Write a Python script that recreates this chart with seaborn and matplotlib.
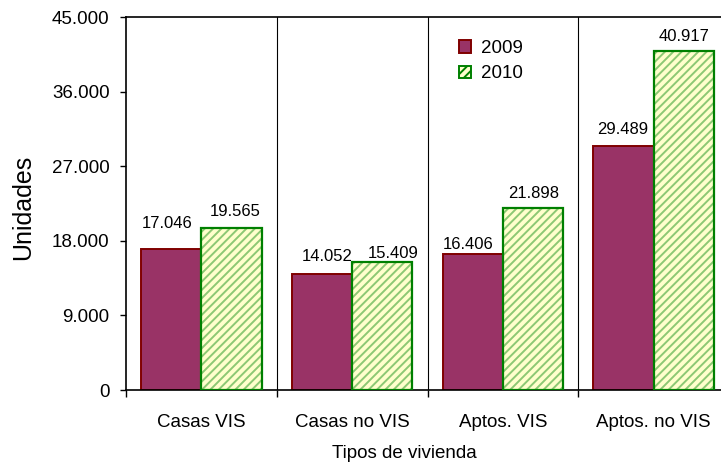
import matplotlib
matplotlib.use("Agg")
import matplotlib.pyplot as plt
from matplotlib.patches import Rectangle, Patch
from matplotlib.ticker import FuncFormatter
from matplotlib import font_manager
import seaborn as sns
import pandas as pd

# Housing units by dwelling type
categories = ["Casas VIS", "Casas no VIS", "Aptos. VIS", "Aptos. no VIS"]
years = ["2009", "2010"]
units_2009 = [17046, 14052, 16406, 29489]
units_2010 = [19565, 15409, 21898, 40917]
y_ticks = [0, 9000, 18000, 27000, 36000, 45000]

df = pd.DataFrame({
    "tipo": categories * 2,
    "anio": [years[0]] * 4 + [years[1]] * 4,
    "unidades": units_2009 + units_2010,
})

sns.set_theme(style="white")
plt.rcParams["font.family"] = ["Liberation Sans", "DejaVu Sans"]
plt.rcParams["text.color"] = "black"
plt.rcParams["xtick.color"] = "black"
plt.rcParams["ytick.color"] = "black"
plt.rcParams["hatch.linewidth"] = 1.4

installed = {f.name for f in font_manager.fontManager.ttflist}
narrow = "Liberation Sans Narrow" if "Liberation Sans Narrow" in installed else None
value_family = [narrow, "Liberation Sans"] if narrow else ["Liberation Sans"]
value_size = 14 if narrow else 12

fill_09, edge_09 = "#993366", "#800000"
fill_10, edge_10, hatch_10 = "#FFFFCC", "#008000", "#8CC873"

fig = plt.figure(figsize=(7.21, 4.65), dpi=100)
ax = fig.add_axes([126 / 721, 75 / 465, 603 / 721, 373 / 465])

sns.barplot(data=df, x="tipo", y="unidades", hue="anio", order=categories,
            hue_order=years, palette=[fill_09, fill_10], width=0.8,
            saturation=1, legend=False, ax=ax, zorder=2)

bars = [p for p in ax.patches if isinstance(p, Rectangle)]
bars_09 = bars[:4]
bars_10 = bars[4:8]
for p in bars_09:
    p.set_edgecolor(edge_09)
    p.set_linewidth(1.4)
for p in bars_10:
    p.set_facecolor(fill_10)
    p.set_hatch("////")
    p.set_edgecolor(hatch_10)
    p.set_linewidth(0)
    ax.add_patch(Rectangle((p.get_x(), p.get_y()), p.get_width(), p.get_height(),
                           fill=False, edgecolor=edge_10, linewidth=1.6, zorder=3))

# value labels above each bar (offsets in pixels)
label_dx = [[-4, 4], [5, 11], [-5, 1], [-1, 0]]
label_dy = [[21, 12], [13, 4], [5, 10], [12, 10]]
for i in range(4):
    for j, p in enumerate((bars_09[i], bars_10[i])):
        val = p.get_height()
        ax.annotate(f"{val:,.0f}".replace(",", "."),
                    (p.get_x() + p.get_width() / 2, val),
                    xytext=(label_dx[i][j], label_dy[i][j]),
                    textcoords="offset pixels", ha="center", va="baseline",
                    fontsize=value_size, family=value_family, color="black",
                    zorder=4)

# axes, ticks, separators
ax.set_ylim(0, 45000)
ax.set_xlim(-0.5, 3.5)
ax.set_yticks(y_ticks)
ax.yaxis.set_major_formatter(FuncFormatter(lambda v, _: f"{v:,.0f}".replace(",", ".")))
ax.tick_params(axis="y", which="major", length=4.3, width=1, color="black",
               pad=7.5, labelsize=13.5, labelcolor="black", left=True,
               direction="out")
ax.set_xticks(range(4))
ax.set_xticklabels(categories)
ax.set_xticks([-0.5, 0.5, 1.5, 2.5, 3.5], minor=True)
ax.tick_params(axis="x", which="major", length=0, pad=17.5, labelsize=13.5,
               labelcolor="black")
ax.tick_params(axis="x", which="minor", length=5, width=1, color="black",
               bottom=True, direction="out")
for b in [0.5, 1.5, 2.5]:
    ax.axvline(b, color="black", linewidth=0.8, zorder=1)
ax.set_xlabel("")
ax.set_ylabel("")
for side in ["left", "bottom", "top", "right"]:
    ax.spines[side].set_visible(True)
    ax.spines[side].set_color("black")
    ax.spines[side].set_linewidth(1.2)
ax.grid(False)

fig.text(23 / 721, 1 - 207 / 465, "Unidades", rotation=90, ha="center",
         va="center", fontsize=18, color="black")
fig.text(404 / 721, 1 - 458 / 465, "Tipos de vivienda", ha="center",
         va="baseline", fontsize=13.5, color="black")

handles = [
    Patch(facecolor=fill_09, edgecolor=edge_09, linewidth=1.4),
    Patch(facecolor=fill_10, edgecolor=edge_10, linewidth=1.4, hatch="////"),
]
fig.legend(handles, years, loc="upper left",
           bbox_to_anchor=(459 / 721, 1 - 40 / 465), frameon=False,
           fontsize=13.5, handlelength=0.65, handleheight=0.65,
           handletextpad=0.5, borderpad=0, borderaxespad=0, labelspacing=0.45)

fig.savefig("out.png", dpi=100)
